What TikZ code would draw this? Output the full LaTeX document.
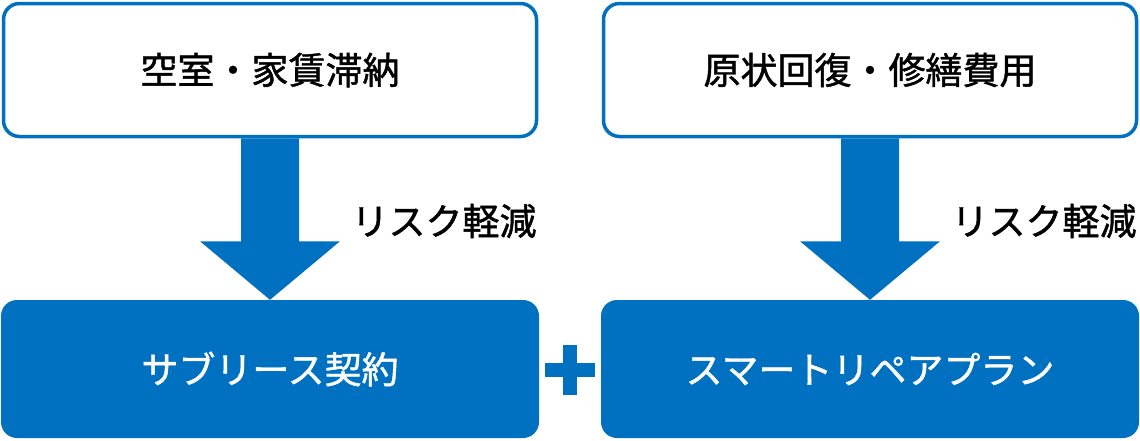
\documentclass[tikz,border=0pt]{standalone}
\usepackage{fontspec}
\newfontfamily\cjk[FakeBold=1.2]{Noto Sans CJK JP}
\usetikzlibrary{positioning, calc}
\definecolor{mblue}{HTML}{0070C0}

\begin{document}
\begin{tikzpicture}[x=1pt, y=-1pt,
    topbox/.style={draw=mblue, line width=3.5pt, fill=white, rounded corners=16pt,
        minimum width=533pt, minimum height=133pt, font=\cjk\fontsize{37}{44}\selectfont},
    planbox/.style={fill=mblue, rounded corners=16pt, text=white,
        minimum width=538pt, minimum height=138pt, font=\cjk\fontsize{37}{44}\selectfont},
    note/.style={font=\cjk\fontsize{37}{44}\selectfont, inner sep=0pt}
]
    \useasboundingbox (0,0) rectangle (1140,440);
    % Risk boxes
    \node[topbox] (risk1) at (270,70) {空室・家賃滞納};
    \node[topbox] (risk2) at (870,70) {原状回復・修繕費用};
    % Plans
    \node[planbox] (plan1) at (270,369) {サブリース契約};
    \node[planbox] (plan2) at (870,369) {スマートリペアプラン};

    % Arrows
    \foreach \a/\b in {risk1/plan1, risk2/plan2} {
        \fill[mblue] ($(\a.south)+(-29,0)$) -- ($(\a.south)+(29,0)$)
            -- ($(\a.south)+(29,103)$) -- ($(\a.south)+(70,103)$)
            -- (\b.north) -- ($(\a.south)+(-70,103)$)
            -- ($(\a.south)+(-29,103)$) -- cycle;
    }
    \node[note] (note1) at (444,221) {リスク軽減};
    \node[note] (note2) at (1044,221) {リスク軽減};

    % Plus
    \node (plus) at (570,370) {};
    \fill[mblue] ($(plus)+(-25,-7)$) rectangle ($(plus)+(25,7)$);
    \fill[mblue] ($(plus)+(-7,-25)$) rectangle ($(plus)+(7,25)$);
\end{tikzpicture}
\end{document}
